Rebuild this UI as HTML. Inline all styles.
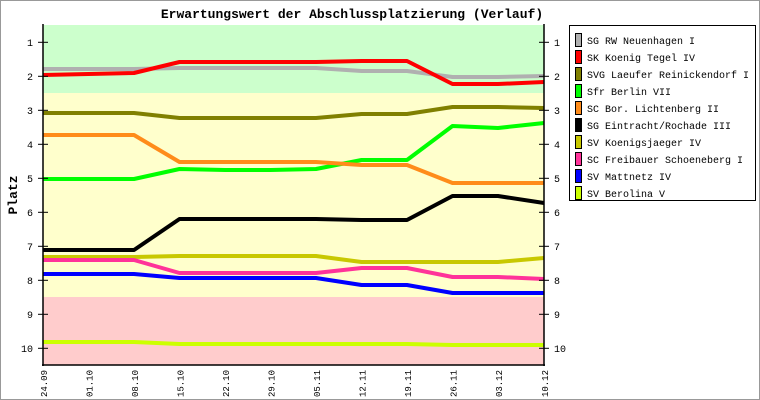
<!DOCTYPE html>
<html><head><style>
html,body{margin:0;padding:0;background:#fff}
svg{display:block}
text{font-family:"Liberation Mono","DejaVu Sans Mono",monospace}
</style></head><body>
<svg width="760" height="400" xmlns="http://www.w3.org/2000/svg">
<rect x="0.5" y="0.5" width="759" height="399" fill="#fff" stroke="#999"/>
<text x="352" y="18" font-size="13" font-weight="bold" text-anchor="middle">Erwartungswert der Abschlussplatzierung (Verlauf)</text>
<text transform="translate(17,195) rotate(-90)" font-size="13" font-weight="bold" text-anchor="middle">Platz</text>
<rect x="43" y="25" width="501" height="68" fill="#ccffcc"/>
<rect x="43" y="93" width="501" height="204" fill="#ffffcc"/>
<rect x="43" y="297" width="501" height="68" fill="#ffcccc"/>
<g fill="none" stroke-width="4" stroke-linejoin="round">
<polyline stroke="#b0b0b0" points="43,69 88.5,69 134,69 179.5,68 225,68 270.5,68 316,68 361.5,71 407,71 452.5,77 498,77 544,76"/>
<polyline stroke="#ff0000" points="43,75 88.5,74 134,73 179.5,62 225,62 270.5,62 316,62 361.5,61 407,61 452.5,84 498,84 544,82"/>
<polyline stroke="#808000" points="43,113 88.5,113 134,113 179.5,118 225,118 270.5,118 316,118 361.5,114 407,114 452.5,107 498,107 544,108"/>
<polyline stroke="#00ff00" points="43,179 88.5,179 134,179 179.5,169 225,170 270.5,170 316,169 361.5,160 407,160 452.5,126 498,128 544,123"/>
<polyline stroke="#ff8c1a" points="43,135 88.5,135 134,135 179.5,162 225,162 270.5,162 316,162 361.5,165 407,165 452.5,183 498,183 544,183"/>
<polyline stroke="#000000" points="43,250 88.5,250 134,250 179.5,219 225,219 270.5,219 316,219 361.5,220 407,220 452.5,196 498,196 544,203"/>
<polyline stroke="#c8c800" points="43,257 88.5,257 134,257 179.5,256 225,256 270.5,256 316,256 361.5,262 407,262 452.5,262 498,262 544,258"/>
<polyline stroke="#ff3399" points="43,260 88.5,260 134,260 179.5,273 225,273 270.5,273 316,273 361.5,268 407,268 452.5,277 498,277 544,279"/>
<polyline stroke="#0000ff" points="43,274 88.5,274 134,274 179.5,278 225,278 270.5,278 316,278 361.5,285 407,285 452.5,293 498,293 544,293"/>
<polyline stroke="#ccff00" points="43,342 88.5,342 134,342 179.5,344 225,344 270.5,344 316,344 361.5,344 407,344 452.5,345 498,345 544,345"/>
</g>
<g stroke="#000" stroke-width="1.5" fill="none">
<line x1="43" y1="24" x2="43" y2="366"/>
<line x1="544" y1="24" x2="544" y2="366"/>
<line x1="42" y1="365" x2="545" y2="365"/>
</g>
<g stroke="#000" stroke-width="1">
<line x1="38" y1="42.3" x2="48" y2="42.3"/><line x1="539" y1="42.3" x2="549" y2="42.3"/>
<line x1="38" y1="76.3" x2="48" y2="76.3"/><line x1="539" y1="76.3" x2="549" y2="76.3"/>
<line x1="38" y1="110.3" x2="48" y2="110.3"/><line x1="539" y1="110.3" x2="549" y2="110.3"/>
<line x1="38" y1="144.3" x2="48" y2="144.3"/><line x1="539" y1="144.3" x2="549" y2="144.3"/>
<line x1="38" y1="178.3" x2="48" y2="178.3"/><line x1="539" y1="178.3" x2="549" y2="178.3"/>
<line x1="38" y1="212.3" x2="48" y2="212.3"/><line x1="539" y1="212.3" x2="549" y2="212.3"/>
<line x1="38" y1="246.3" x2="48" y2="246.3"/><line x1="539" y1="246.3" x2="549" y2="246.3"/>
<line x1="38" y1="280.3" x2="48" y2="280.3"/><line x1="539" y1="280.3" x2="549" y2="280.3"/>
<line x1="38" y1="314.3" x2="48" y2="314.3"/><line x1="539" y1="314.3" x2="549" y2="314.3"/>
<line x1="38" y1="348.3" x2="48" y2="348.3"/><line x1="539" y1="348.3" x2="549" y2="348.3"/>
</g>
<g font-size="10" text-anchor="end">
<text x="33" y="46">1</text><text x="33" y="80">2</text><text x="33" y="114">3</text><text x="33" y="148">4</text><text x="33" y="182">5</text><text x="33" y="216">6</text><text x="33" y="250">7</text><text x="33" y="284">8</text><text x="33" y="318">9</text><text x="33" y="352">10</text>
</g>
<g font-size="10" text-anchor="start">
<text x="554" y="46">1</text><text x="554" y="80">2</text><text x="554" y="114">3</text><text x="554" y="148">4</text><text x="554" y="182">5</text><text x="554" y="216">6</text><text x="554" y="250">7</text><text x="554" y="284">8</text><text x="554" y="318">9</text><text x="554" y="352">10</text>
</g>
<g font-size="9" text-anchor="end">
<text transform="translate(47,370) rotate(-90)">24.09</text>
<text transform="translate(92.5,370) rotate(-90)">01.10</text>
<text transform="translate(138,370) rotate(-90)">08.10</text>
<text transform="translate(183.5,370) rotate(-90)">15.10</text>
<text transform="translate(229,370) rotate(-90)">22.10</text>
<text transform="translate(274.5,370) rotate(-90)">29.10</text>
<text transform="translate(320,370) rotate(-90)">05.11</text>
<text transform="translate(365.5,370) rotate(-90)">12.11</text>
<text transform="translate(411,370) rotate(-90)">19.11</text>
<text transform="translate(456.5,370) rotate(-90)">26.11</text>
<text transform="translate(502,370) rotate(-90)">03.12</text>
<text transform="translate(548,370) rotate(-90)">10.12</text>
</g>
<rect x="569.5" y="25.5" width="186" height="175" fill="#fff" stroke="#000"/>
<g stroke="#000" stroke-width="1">
<rect x="575.5" y="33.5" width="6" height="13" fill="#b0b0b0"/>
<rect x="575.5" y="50.5" width="6" height="13" fill="#ff0000"/>
<rect x="575.5" y="67.5" width="6" height="13" fill="#808000"/>
<rect x="575.5" y="84.5" width="6" height="13" fill="#00ff00"/>
<rect x="575.5" y="101.5" width="6" height="13" fill="#ff8c1a"/>
<rect x="575.5" y="118.5" width="6" height="13" fill="#000000"/>
<rect x="575.5" y="135.5" width="6" height="13" fill="#c8c800"/>
<rect x="575.5" y="152.5" width="6" height="13" fill="#ff3399"/>
<rect x="575.5" y="169.5" width="6" height="13" fill="#0000ff"/>
<rect x="575.5" y="186.5" width="6" height="13" fill="#ccff00"/>
</g>
<g font-size="10">
<text x="587" y="44">SG RW Neuenhagen I</text>
<text x="587" y="61">SK Koenig Tegel IV</text>
<text x="587" y="78">SVG Laeufer Reinickendorf I</text>
<text x="587" y="95">Sfr Berlin VII</text>
<text x="587" y="112">SC Bor. Lichtenberg II</text>
<text x="587" y="129">SG Eintracht/Rochade III</text>
<text x="587" y="146">SV Koenigsjaeger IV</text>
<text x="587" y="163">SC Freibauer Schoeneberg I</text>
<text x="587" y="180">SV Mattnetz IV</text>
<text x="587" y="197">SV Berolina V</text>
</g>
</svg>
</body></html>
